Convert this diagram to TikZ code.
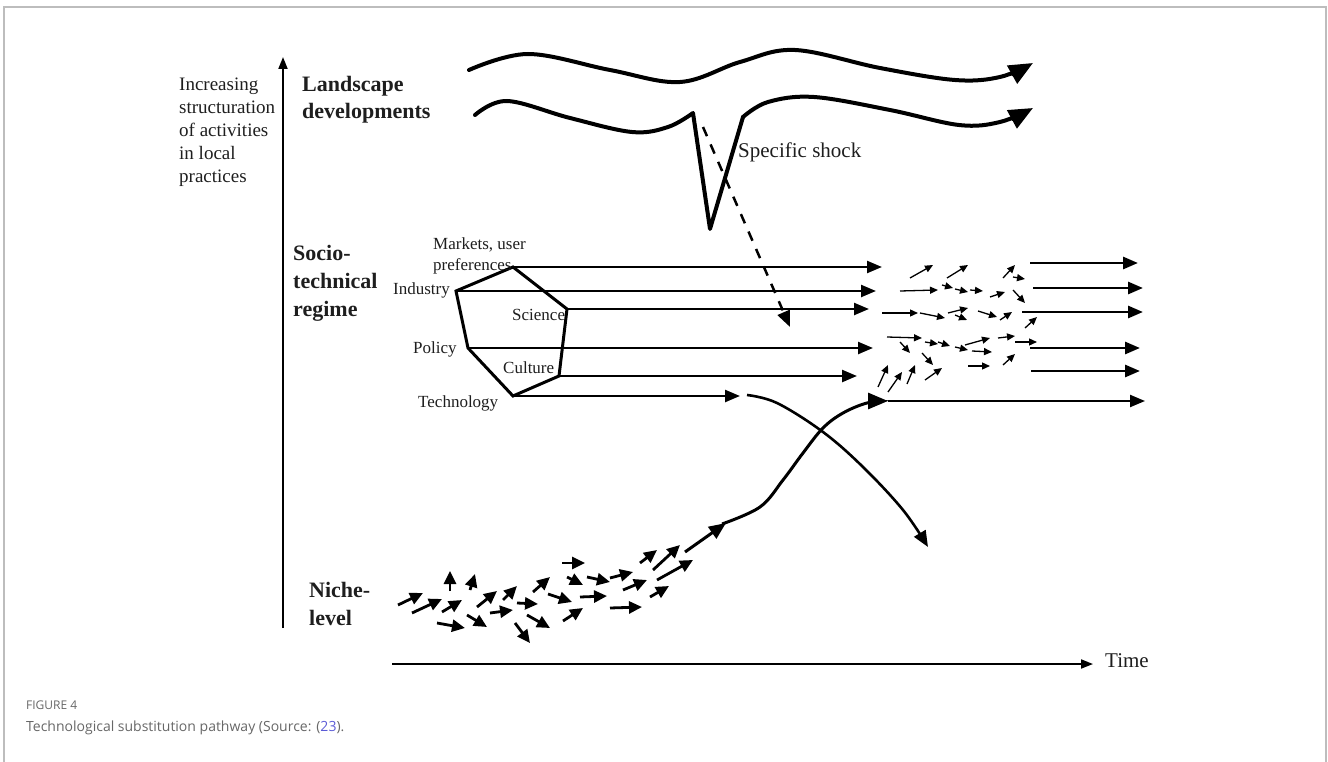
\documentclass[tikz,border=0pt]{standalone}
\usepackage{fontspec}
\setmainfont{Liberation Serif}
\newfontfamily\capfont{Open Sans}
\usetikzlibrary{arrows.meta}
\definecolor{framegrey}{HTML}{BDBDBD}
\definecolor{capgrey}{HTML}{676767}
\definecolor{reflink}{HTML}{5B5BD6}
\definecolor{ink}{HTML}{1E1E1E}

\tikzset{
  lbl/.style={inner sep=0pt, text=ink, font=\fontsize{17}{21.5}\selectfont, anchor=west, align=left},
  levelname/.style={inner sep=0pt, text=ink, font=\fontsize{22}{28}\selectfont\bfseries, align=left, anchor=west},
  axisline/.style={line width=2pt, -{Triangle[length=12pt,width=9pt]}},
  regime/.style={line width=2.4pt, -{Triangle[length=15pt,width=12pt]}},
  wave/.style={line width=4pt, line cap=round, line join=round, -{Triangle[length=24pt,width=20pt]}},
  hexedge/.style={line width=3pt, line join=miter},
  niche/.style={line width=2.8pt, -{Triangle[length=13pt,width=12pt]}},
  swarm/.style={line width=1.3pt, -{Triangle[length=8pt,width=7pt]}},
  trend/.style={line width=3pt, -{Triangle[length=18pt,width=15pt]}},
}

\begin{document}
\begin{tikzpicture}[x=1pt,y=-1pt]
\useasboundingbox (0,0) rectangle (1328,762);

% outer frame
\draw[framegrey, line width=1.2pt] (4,762) -- (4,7) -- (1326,7) -- (1326,762);

% axes
\coordinate (ybase) at (283,628);
\coordinate (ytop) at (283,57);
\draw[axisline] (ybase) -- (ytop);
\coordinate (tbase) at (392,664);
\coordinate (ttip) at (1093,664);
\draw[axisline, line width=1.8pt] (tbase) -- (ttip);
\node[lbl, font=\fontsize{21}{25}\selectfont] (time) at (1105,661) {Time};

% axis and level labels
\node[lbl, font=\fontsize{19}{23}\selectfont] (yaxis) at (179,132)
  {Increasing\\structuration\\of activities\\in local\\practices};
\node[levelname, font=\fontsize{22}{27}\selectfont\bfseries] (landscape) at (302,100) {Landscape\\developments};
\node[levelname] (regimelbl) at (293,283) {Socio-\\technical\\regime};
\node[levelname] (nichelbl) at (309,604) {Niche-\\level};

% landscape developments
\draw[wave] plot[smooth, tension=0.6] coordinates
  {(469,70) (528,54) (610,70) (680,82) (740,62) (795,50) (880,68) (955,80) (1000,77) (1033,63)};
\draw[line width=4pt, line cap=round, line join=round]
  plot[smooth, tension=0.6] coordinates {(475,115) (507,101) (570,118) (632,132) (668,127) (693,113)}
  -- (710,229) -- (743,117);
\draw[wave] plot[smooth, tension=0.6] coordinates
  {(743,117) (768,102) (814,97) (890,110) (959,125) (1000,122) (1033,108)};
\node[lbl, font=\fontsize{21}{25}\selectfont] (shock) at (738,152) {Specific shock};
\coordinate (shockstart) at (703,127);
\coordinate (shockend) at (790,327);
\draw[line width=2.5pt, dash pattern=on 10pt off 9pt, -{Triangle[length=16pt,width=13pt]}]
  (shockstart) -- (shockend);

% regime hexagon
\coordinate (hT) at (513,267);
\coordinate (hR) at (567,309);
\coordinate (hC) at (559,376);
\coordinate (hB) at (513,396);
\coordinate (hP) at (468,348);
\coordinate (hI) at (456,291);
\draw[hexedge] (hT) -- (hR) -- (hC) -- (hB) -- (hP) -- (hI) -- cycle;

\node[lbl] (markets) at (433,256) {Markets, user\\preferences};
\node[lbl] (industry) at (393,290) {Industry};
\node[lbl] (science) at (512,315) {Science};
\node[lbl] (policy) at (413,349) {Policy};
\node[lbl] (culture) at (503,368) {Culture};
\node[lbl] (technology) at (418,403) {Technology};

% regime dimensions
\coordinate (eM) at (882,267);
\coordinate (eI) at (876,291);
\coordinate (eS) at (869,309);
\coordinate (eP) at (873,348);
\coordinate (eC) at (857,376);
\coordinate (eT) at (740,396);
\draw[regime] (hT) -- (eM);
\draw[regime] (hI) -- (eI);
\draw[regime] (hR) -- (eS);
\draw[regime] (hP) -- (eP);
\draw[regime] (hC) -- (eC);
\draw[regime] (hB) -- (eT);

% new regime
\foreach \x/\y/\z in {1030/263/1138, 1033/288/1143, 1022/312/1143, 1030/348/1140, 1031/371/1140}
  \draw[regime, line width=2.8pt] (\x,\y) -- (\z,\y);

% reconfiguration swarm
\foreach \a/\b/\c/\d in {
  910/278/933/265, 947/278/968/265, 1003/278/1015/265, 1013/277/1025/279,
  900/291/938/290, 942/285/953/288, 955/289/968/292, 970/290/983/291,
  990/297/1005/292, 1013/290/1025/303, 882/313/918/313, 920/313/945/318,
  948/313/968/308, 955/315/967/320, 978/311/997/317, 1000/320/1012/312,
  1025/328/1037/317, 887/337/922/338, 900/342/910/353, 925/342/938/344,
  938/342/950/346, 955/347/968/350, 965/345/990/338, 972/351/992/352,
  998/338/1015/336, 1015/342/1037/342, 922/353/933/365, 968/366/990/366,
  1003/365/1015/354, 878/387/888/365, 888/392/902/372, 907/384/915/365,
  925/380/942/368}
  \draw[swarm] (\a,\b) -- (\c,\d);

% niche experiments
\foreach \a/\b/\c/\d in {
  398/605/423/593, 412/613/442/599, 450/591/450/571, 470/590/475/574,
  442/612/462/600, 437/623/465/628, 467/615/487/627, 477/607/497/591,
  490/613/513/610, 503/600/517/586, 517/603/538/604, 515/623/530/643,
  527/615/550/628, 533/592/550/577, 548/594/572/602, 562/563/585/563,
  567/577/583/585, 563/621/583/608, 580/597/607/596, 587/577/610/582,
  610/578/633/572, 610/608/642/607, 623/590/647/580, 640/563/657/550,
  653/570/680/545, 657/580/693/560, 650/597/669/586}
  \draw[niche] (\a,\b) -- (\c,\d);

% breakthrough of the niche
\coordinate (nstart) at (685,552);
\coordinate (nhead) at (726,523);
\draw[niche, line width=3pt, -{Triangle[length=17pt,width=14pt]}] (nstart) -- (nhead);
\coordinate (rise) at (888,401);
\draw[trend, -{Triangle[length=20pt,width=16pt]}] plot[smooth, tension=0.6] coordinates
  {(722,524) (760,507) (783,480) (803,453) (823,428) (843,413) (867,403) (888,401)};
\coordinate (riseend) at (1145,401);
\draw[regime, line width=2.2pt] (rise) -- (riseend);

% decline of the old technology
\coordinate (fall) at (928,547);
\draw[trend, line width=2.6pt, -{Triangle[length=16pt,width=13pt]}] plot[smooth, tension=0.6] coordinates
  {(747,395) (777,403) (823,432) (863,467) (903,510) (928,547)};

% caption
\node[inner sep=0pt, anchor=west, text=capgrey, font=\capfont\fontsize{12}{14}\selectfont] (figno) at (26,705) {FIGURE 4};
\node[inner sep=0pt, anchor=west, text=capgrey, font=\capfont\fontsize{14}{17}\selectfont] (caption) at (26,728)
  {Technological substitution pathway (Source: (\textcolor{reflink}{23}).};
\end{tikzpicture}
\end{document}
